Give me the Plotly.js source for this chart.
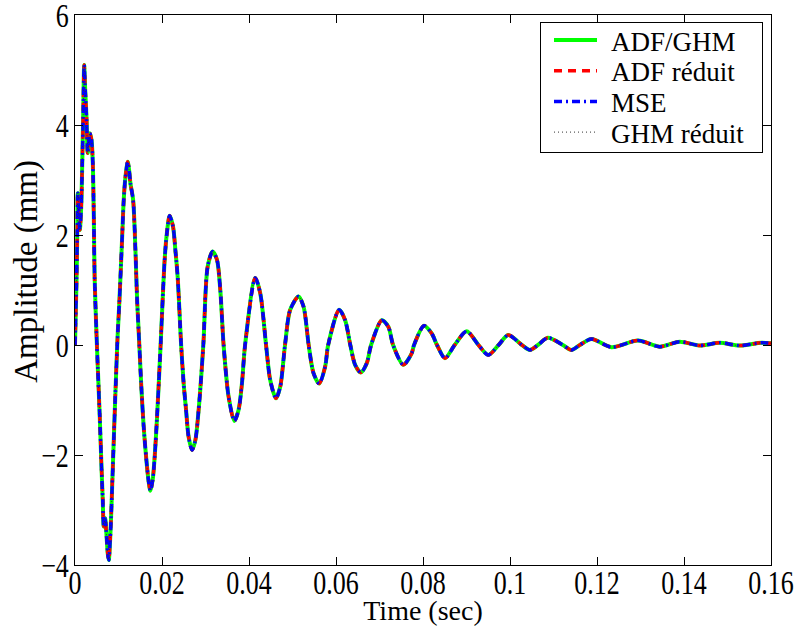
<!DOCTYPE html>
<html>
<head>
<meta charset="utf-8">
<script src="https://cdn.plot.ly/plotly-3.0.1.min.js"></script>
<style>
  html, body { margin: 0; padding: 0; background: #fff; }
  #chart { width: 798px; height: 626px; }
</style>
</head>
<body>
<div id="chart"></div>
<script>
// Time (sec)
const time = [
  0, 0.00034, 0.00051, 0.00064, 0.00110, 0.00142, 0.00165, 0.00188, 0.00211, 0.00234,
  0.00264, 0.00294, 0.00340, 0.00379, 0.00409, 0.00432, 0.00452, 0.00494, 0.00523, 0.00569,
  0.00608, 0.00638, 0.00661, 0.00693, 0.00716, 0.00753, 0.00776, 0.00815, 0.00854, 0.00891,
  0.00937, 0.00983, 0.01022, 0.01084, 0.01120, 0.01159, 0.01212, 0.01244, 0.01274, 0.01336,
  0.01389, 0.01428, 0.01479, 0.01520, 0.01579, 0.01641, 0.01694, 0.01733, 0.01786, 0.01832,
  0.01887, 0.01968, 0.02061, 0.02112, 0.02176, 0.02254, 0.02307, 0.02360, 0.02440, 0.02498,
  0.02553, 0.02612, 0.02691, 0.02767, 0.02842, 0.02950, 0.03049, 0.03163, 0.03264, 0.03340,
  0.03416, 0.03531, 0.03662, 0.03760, 0.03838, 0.03910, 0.04144, 0.04259, 0.04392, 0.04488,
  0.04619, 0.04718, 0.04828, 0.04947, 0.05138, 0.05253, 0.05372, 0.05482, 0.05613, 0.05751,
  0.05820, 0.06072, 0.06210, 0.06329, 0.06439, 0.06570, 0.06708, 0.06807, 0.07052, 0.07204,
  0.07312, 0.07548, 0.07741, 0.07794, 0.08023, 0.08200, 0.08322, 0.08506, 0.08728, 0.09004,
  0.09275, 0.09500, 0.09738, 0.09959, 0.10273, 0.10457, 0.10641, 0.10870, 0.11215, 0.11414,
  0.11605, 0.11873, 0.12332, 0.12943, 0.13441, 0.13900, 0.14359, 0.14818, 0.15278, 0.15776,
  0.16
];
// Amplitude (mm) (the four curves overlap)
const amplitude = [
  0, 1.13, 1.96, 2.76, 2.09, 2.5, 3.24, 4.15, 5.09, 4.64,
  4.15, 3.49, 3.85, 3.73, 3.31, 2.33, 1.2, 0.2, -0.39, -1.3,
  -2.2, -2.82, -3.3, -3.15, -3.36, -3.79, -3.91, -3.42, -2.58, -1.73,
  -0.7, 0.22, 0.82, 1.96, 2.64, 3.05, 3.33, 3.18, 2.94, 2.64,
  1.73, 0.82, 0, -0.69, -1.49, -2.09, -2.49, -2.65, -2.45, -2.03,
  -1.3, 0, 1.55, 2.03, 2.35, 2.15, 1.73, 1.24, 0, -0.7,
  -1.18, -1.67, -1.91, -1.73, -1.18, 0, 1.42, 1.70, 1.55, 1.0,
  0, -0.94, -1.38, -1.18, -0.7, 0, 1.22, 0.94, 0, -0.64,
  -0.97, -0.76, 0, 0.64, 0.88, 0.70, 0, -0.51, -0.70, -0.39,
  0, 0.64, 0.45, 0, -0.36, -0.50, -0.33, 0, 0.45, 0.33,
  0, -0.36, -0.15, 0, 0.35, 0.21, 0, -0.24, 0, 0.25,
  0, -0.18, 0, 0.18, 0, -0.09, 0, 0.13, 0, -0.09,
  0, 0.11, -0.04, 0.08, -0.03, 0.06, -0.01, 0.04, -0.01, 0.04,
  0.03
];
const seriesNames = ["ADF/GHM", "ADF réduit", "MSE", "GHM réduit"];
const seriesColors = ["#00ff00", "#ff0000", "#0000ff", "#333333"];
const seriesDash = ["solid", "8px,6px", "8px,4px,2px,4px", "1px,3px"];
const seriesWidth = [4, 3.5, 3.5, 1];
const xTicks = [0, 0.02, 0.04, 0.06, 0.08, 0.1, 0.12, 0.14, 0.16];
const yTicks = [-4, -2, 0, 2, 4, 6];

const serif = "Liberation Serif, Times New Roman, serif";

const traces = seriesNames.map((name, i) => ({
  type: "scatter",
  mode: "lines",
  name: name,
  x: time,
  y: amplitude,
  line: { color: seriesColors[i], dash: seriesDash[i], width: seriesWidth[i], shape: "spline", smoothing: 0.8 }
}));

const axisCommon = {
  showline: true, linecolor: "#000", linewidth: 1, mirror: "ticks",
  ticks: "inside", ticklen: 8, tickcolor: "#000", tickwidth: 1,
  showgrid: false, zeroline: false,
  tickfont: { family: serif, size: 26, color: "#000" }
};

const layout = {
  width: 798, height: 626,
  margin: { l: 75, r: 27, t: 15, b: 61, pad: 0 },
  paper_bgcolor: "#fff", plot_bgcolor: "#fff",
  showlegend: true,
  xaxis: Object.assign({}, axisCommon, {
    range: [0, 0.16], tickvals: xTicks, ticktext: xTicks.map(String),
    title: { text: "Time (sec)", font: { family: serif, size: 28, color: "#000" }, standoff: 2 }
  }),
  yaxis: Object.assign({}, axisCommon, {
    range: [-4, 6], tickvals: yTicks
  }),
  annotations: [{
    text: "Amplitude (mm)", xref: "paper", yref: "paper",
    x: -0.069, y: 0.535, xanchor: "center", yanchor: "middle",
    textangle: -90, showarrow: false,
    font: { family: serif, size: 33, color: "#000" }
  }],
  legend: {
    x: 0.986, y: 0.987, xanchor: "right", yanchor: "top",
    bgcolor: "#fff", bordercolor: "#000", borderwidth: 1,
    font: { family: serif, size: 27, color: "#000" },
    tracegroupgap: 0, itemwidth: 40
  }
};

const gd = document.getElementById("chart");
Plotly.newPlot(gd, traces, layout, { staticPlot: true, displayModeBar: false }).then(function () {
  // MATLAB-like compact legend box
  try {
    const leg = gd.querySelector("g.legend");
    leg.setAttribute("transform", "translate(540,22)");
    const bg = leg.querySelector("rect.bg");
    bg.setAttribute("width", 222);
    bg.setAttribute("height", 130);
    const sb = leg.querySelector("g.scrollbox");
    sb.removeAttribute("clip-path");
    sb.setAttribute("transform", "translate(0,0)");
    leg.querySelectorAll("g.traces").forEach(function (g, i) {
      g.setAttribute("transform", "translate(0," + (18 + i * 30.7) + ")");
      g.querySelectorAll("path.js-line").forEach(function (p) { p.setAttribute("d", "M14,0h43"); });
      const t = g.querySelector("text.legendtext");
      if (t) {
        t.setAttribute("x", 71);
        t.querySelectorAll("tspan").forEach(function (ts) { ts.setAttribute("x", 71); });
      }
    });
  } catch (e) {}
  // tall, narrow tick labels as in the reference
  try {
    gd.querySelectorAll("g.xtick text, g.ytick text").forEach(function (t) {
      const bb = t.getBBox();
      const cy = bb.y + bb.height / 2;
      const isX = t.parentNode.classList.contains("xtick");
      const T = t.getAttribute("transform") || "";
      t.setAttribute("transform", T + " translate(0," + (cy + (isX ? -6 : 0)) + ") scale(1,1.33) translate(0," + (-cy) + ")");
    });
  } catch (e) {}
});
</script>
</body>
</html>
